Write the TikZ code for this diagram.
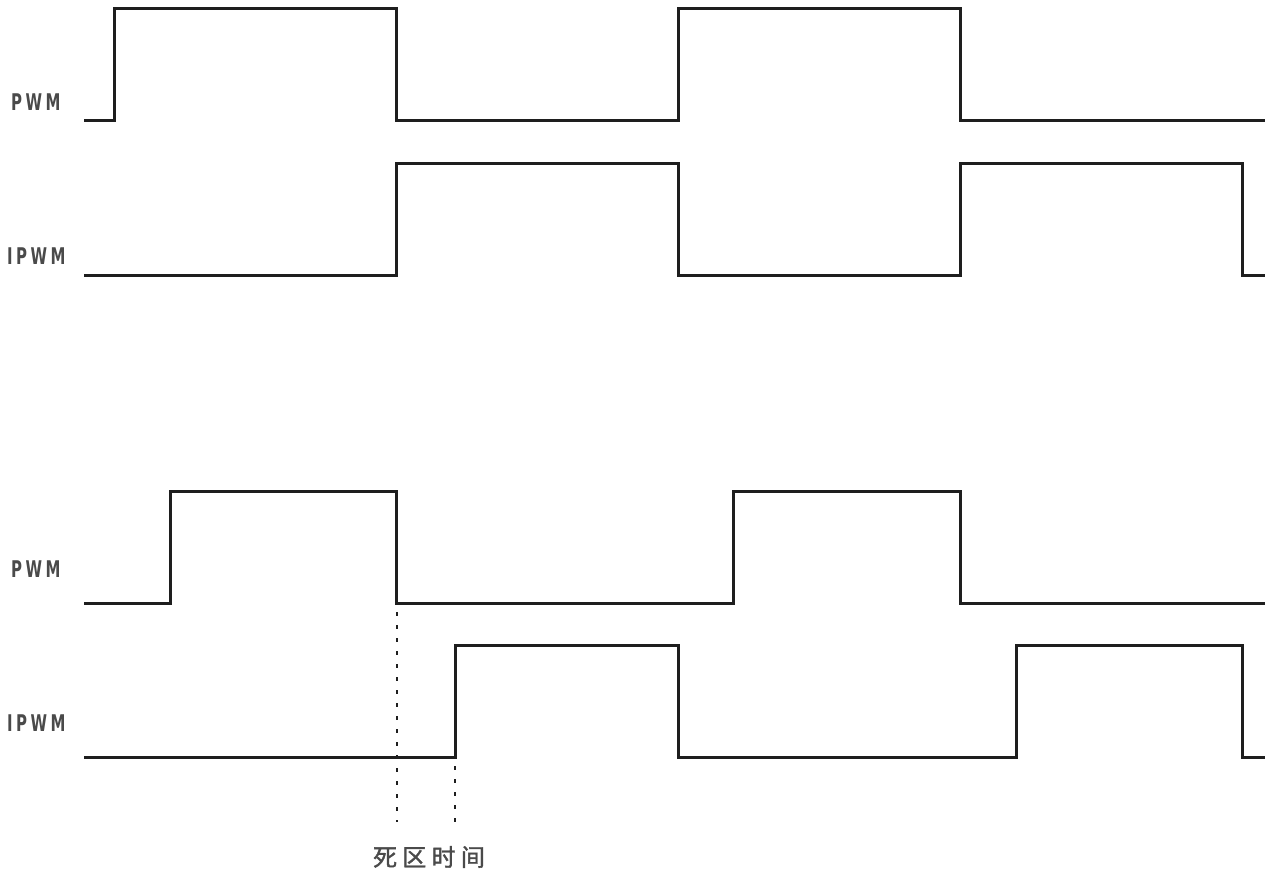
\documentclass[tikz,border=0pt]{standalone}
\usepackage{fontspec}
\newfontfamily\lblfont[LetterSpace=23]{DejaVu Sans Bold}
\newfontfamily\cjk[LetterSpace=22,FakeBold=1.5]{Noto Sans CJK SC}
\definecolor{wave}{HTML}{1E1E1E}
\definecolor{txt}{HTML}{4A4A4A}
\tikzset{
  wavepath/.style={draw=wave, line width=3pt, line join=miter},
  deadline/.style={draw=wave, line width=2pt, dash pattern=on 4pt off 9pt},
  siglabel/.style={anchor=west, inner sep=0pt, text=txt, font=\lblfont\fontsize{23}{23}\selectfont},
  cjklabel/.style={inner sep=0pt, text=txt, font=\cjk\fontsize{24}{24}\selectfont}
}
\begin{document}
\begin{tikzpicture}[x=1pt,y=-1pt]
\useasboundingbox (0,0) rectangle (1274,872);
% top PWM
\draw[wavepath] (84,121) -- (114,121) -- (114,9) -- (396,9) -- (396,121) -- (678,121) -- (678,9) -- (960,9) -- (960,121) -- (1265,121);
% top IPWM
\draw[wavepath] (84,275) -- (396,275) -- (396,163) -- (678,163) -- (678,275) -- (960,275) -- (960,163) -- (1242,163) -- (1242,275) -- (1265,275);
% bottom PWM
\draw[wavepath] (84,603) -- (170,603) -- (170,491) -- (396,491) -- (396,603) coordinate (fall) -- (733,603) -- (733,491) -- (960,491) -- (960,603) -- (1265,603);
% bottom IPWM
\draw[wavepath] (84,757) -- (455,757) coordinate (rise) -- (455,645) -- (678,645) -- (678,757) -- (1016,757) -- (1016,645) -- (1242,645) -- (1242,757) -- (1265,757);
% dead time markers
\coordinate (fallend) at (397,822);
\coordinate (riseend) at (455,830);
\draw[deadline] ([xshift=1pt,yshift=4pt]fall) -- (fallend);
\draw[deadline] ([yshift=4pt]rise) -- (riseend);
% labels
\node[siglabel] (l1) at (11,102) {\scalebox{0.65}[1]{PWM}};
\node[siglabel] (l2) at (7,256) {\scalebox{0.65}[1]{IPWM}};
\node[siglabel] (l3) at (11,569) {\scalebox{0.65}[1]{PWM}};
\node[siglabel] (l4) at (7,723) {\scalebox{0.65}[1]{IPWM}};
\node[cjklabel] (dt) at (429,857) {死区时间};
\end{tikzpicture}
\end{document}
